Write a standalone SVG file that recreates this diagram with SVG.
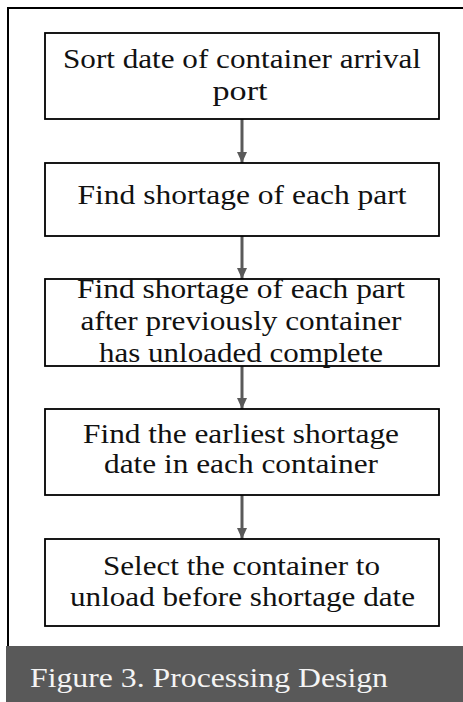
<svg xmlns="http://www.w3.org/2000/svg" width="463" height="702" viewBox="0 0 463 702">
<style>
.box{fill:#fff;stroke:#000;stroke-width:1.8}
.t{font-size:27px;fill:#111;text-anchor:middle}
.cap{font-size:28px;fill:#f4f4f4}
.conn{stroke:#5a5a5a;stroke-width:3;fill:none}
</style>
<defs>
<marker id="ah" markerWidth="12" markerHeight="10" refX="11" refY="5" orient="auto" markerUnits="userSpaceOnUse">
<path d="M0,0 L11,5 L0,10 Z" fill="#5a5a5a"/>
</marker>
</defs>
<rect x="0" y="0" width="463" height="702" fill="#fff"/>
<path d="M8,702 V8 H463" fill="none" stroke="#000" stroke-width="2"/>
<g font-family="Liberation Serif, Times New Roman, serif">
<g id="caption">
<rect x="6" y="646" width="457" height="56" fill="#595959"/>
<text class="cap" x="30" y="687" textLength="358" lengthAdjust="spacingAndGlyphs">Figure 3. Processing Design</text>
</g>
<g id="connectors">
<line class="conn" x1="242" y1="119" x2="242" y2="163" marker-end="url(#ah)"/>
<line class="conn" x1="242" y1="236" x2="242" y2="279" marker-end="url(#ah)"/>
<line class="conn" x1="242" y1="366" x2="242" y2="409" marker-end="url(#ah)"/>
<line class="conn" x1="242" y1="495" x2="242" y2="539" marker-end="url(#ah)"/>
</g>
<g id="n1">
<rect class="box" x="45" y="33" width="394" height="86"/>
<text class="t" x="242" y="68" textLength="358" lengthAdjust="spacingAndGlyphs">Sort date of container arrival</text>
<text class="t" x="240" y="100" textLength="55" lengthAdjust="spacingAndGlyphs">port</text>
</g>
<g id="n2">
<rect class="box" x="45" y="163" width="394" height="73"/>
<text class="t" x="242" y="204" textLength="329" lengthAdjust="spacingAndGlyphs">Find shortage of each part</text>
</g>
<g id="n3">
<rect class="box" x="45" y="279" width="394" height="87"/>
<text class="t" x="241" y="298" textLength="328" lengthAdjust="spacingAndGlyphs">Find shortage of each part</text>
<text class="t" x="241" y="330" textLength="321" lengthAdjust="spacingAndGlyphs">after previously container</text>
<text class="t" x="241" y="362" textLength="284" lengthAdjust="spacingAndGlyphs">has unloaded complete</text>
</g>
<g id="n4">
<rect class="box" x="45" y="409" width="394" height="86"/>
<text class="t" x="241" y="443" textLength="316" lengthAdjust="spacingAndGlyphs">Find the earliest shortage</text>
<text class="t" x="241" y="473" textLength="274" lengthAdjust="spacingAndGlyphs">date in each container</text>
</g>
<g id="n5">
<rect class="box" x="45" y="539" width="394" height="87"/>
<text class="t" x="241.5" y="575" textLength="277" lengthAdjust="spacingAndGlyphs">Select the container to</text>
<text class="t" x="242.5" y="606" textLength="345" lengthAdjust="spacingAndGlyphs">unload before shortage date</text>
</g>
</g>
</svg>
